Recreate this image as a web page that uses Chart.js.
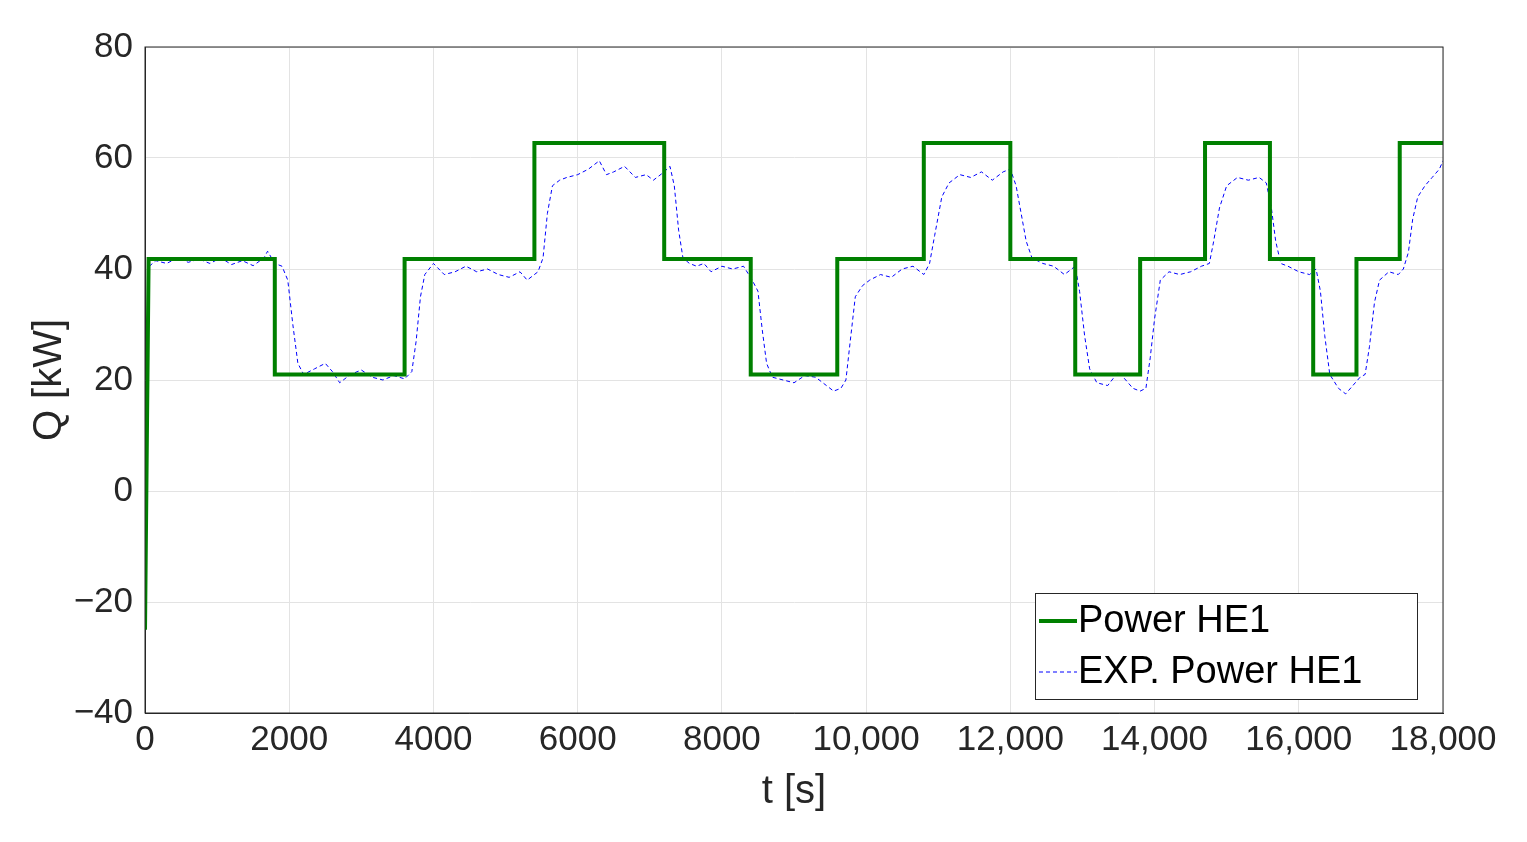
<!DOCTYPE html>
<html>
<head>
<meta charset="utf-8">
<script src="https://cdn.jsdelivr.net/npm/chart.js@4"></script>
<style>
  body { margin: 0; background: #fff; }
  #wrap { width: 1527px; height: 842px; }
</style>
</head>
<body>
<div id="wrap"><canvas id="c" width="1527" height="842"></canvas></div>
<script>
// Power HE1 (model) - step profile
const tModel = [0, 50, 1800, 1800, 3600, 3600, 5400, 5400, 7200, 7200, 8400, 8400, 9600, 9600, 10800, 10800,
  12000, 12000, 12900, 12900, 13800, 13800, 14700, 14700, 15600, 15600, 16200, 16200, 16800, 16800, 17400, 17400, 18000];
const qModel = [-25, 41.8, 41.8, 21, 21, 41.8, 41.8, 62.7, 62.7, 41.8, 41.8, 21, 21, 41.8, 41.8, 62.7,
  62.7, 41.8, 41.8, 21, 21, 41.8, 41.8, 62.7, 62.7, 41.8, 41.8, 21, 21, 41.8, 41.8, 62.7, 62.7];

// EXP. Power HE1 (measured)
const tExp = [60, 150, 300, 450, 600, 750, 900, 1050, 1200, 1350, 1500, 1650, 1700, 1800, 1900, 1980, 2050, 2120, 2200, 2350,
  2500, 2600, 2700, 2850, 3000, 3150, 3300, 3450, 3600, 3700, 3760, 3820, 3880, 4000, 4150, 4300, 4450, 4600, 4750, 4900,
  5050, 5200, 5300, 5450, 5520, 5580, 5650, 5750, 5850, 6000, 6150, 6300, 6400, 6500, 6650, 6800, 6950, 7050, 7200, 7280,
  7340, 7400, 7460, 7550, 7650, 7750, 7850, 8000, 8150, 8300, 8420, 8500, 8560, 8620, 8700, 8850, 9000, 9150, 9300, 9450,
  9550, 9650, 9720, 9780, 9850, 9950, 10050, 10200, 10350, 10500, 10650, 10800, 10880, 10950, 11050, 11150, 11300, 11450, 11600, 11750,
  11900, 12000, 12080, 12150, 12220, 12300, 12450, 12600, 12750, 12900, 12960, 13030, 13100, 13200, 13350, 13500, 13600, 13700, 13800, 13880,
  13940, 14000, 14080, 14200, 14350, 14500, 14650, 14760, 14820, 14900, 15000, 15150, 15300, 15450, 15550, 15620, 15680, 15750, 15850, 16000,
  16150, 16240, 16300, 16360, 16430, 16550, 16650, 16750, 16850, 16920, 16980, 17050, 17120, 17250, 17380, 17450, 17520, 17580, 17650, 17750,
  17850, 17950, 18000];
const qExp = [40.5, 41.5, 41, 42, 41.2, 41.8, 41, 42, 40.8, 41.5, 40.6, 42, 43.2, 41, 40.5, 38, 30, 23, 21, 22,
  23, 21.5, 19.5, 21, 21.8, 20.5, 20, 20.8, 20.2, 21.5, 27, 35, 39, 41, 39, 39.5, 40.5, 39.5, 40, 39,
  38.5, 39.5, 38, 39.5, 42, 50, 55, 56, 56.5, 57, 58, 59.5, 57, 57.5, 58.5, 56.5, 57, 56, 57.5, 58.5,
  55, 47, 42, 41, 40.5, 41, 39.5, 40.5, 40, 40.5, 38, 36, 29, 23, 20.5, 20, 19.5, 20.8, 20.5, 19,
  18, 18.5, 20, 27, 35, 37, 38, 39, 38.5, 40, 40.5, 39, 41, 46, 53, 55.5, 57, 56.5, 57.5, 56,
  57.5, 58, 55, 50, 45, 42, 41, 40.5, 39, 40.5, 36, 28, 22, 19.5, 19, 21.5, 20, 18.5, 18, 18.5,
  24, 31, 38, 39.5, 39, 39.5, 40.5, 41, 45, 51, 55, 56.5, 56, 56.5, 55.5, 51, 45, 41, 40.5, 39.5,
  39, 40, 36, 28, 21, 18.5, 17.5, 19, 20.5, 21, 26, 34, 38, 39.5, 39, 40, 43, 49, 53, 55,
  56.5, 58, 59.5];

const xTicks = [0, 2000, 4000, 6000, 8000, 10000, 12000, 14000, 16000, 18000];

const toXY = (ts, qs) => ts.map((t, i) => ({ x: t, y: qs[i] }));
const fmtX = v => v >= 10000 ? v.toLocaleString('en-US') : String(v);
const fmtY = v => v < 0 ? '\u2212' + Math.abs(v) : String(v);

// legend drawn inside the plot, bottom right
const boxLegend = {
  id: 'boxLegend',
  afterDraw(chart) {
    const { ctx, chartArea } = chart;
    const w = 382, h = 106;
    const x = chartArea.right - 26 - w, y = chartArea.bottom - 14 - h;
    ctx.save();
    ctx.fillStyle = '#fff';
    ctx.fillRect(x, y, w, h);
    ctx.strokeStyle = '#262626';
    ctx.lineWidth = 1;
    ctx.strokeRect(x + 0.5, y + 0.5, w, h);
    ctx.font = '38px "Liberation Sans", Arial, sans-serif';
    ctx.textBaseline = 'middle';
    chart.data.datasets.forEach((ds, i) => {
      const cy = y + 28 + i * 51;
      ctx.strokeStyle = ds.borderColor;
      ctx.lineWidth = ds.borderWidth;
      ctx.setLineDash(ds.borderDash || []);
      ctx.beginPath();
      ctx.moveTo(x + 4, cy);
      ctx.lineTo(x + 42, cy);
      ctx.stroke();
      ctx.setLineDash([]);
      ctx.fillStyle = '#000';
      ctx.fillText(ds.label, x + 43, cy + 1);
    });
    ctx.restore();
  }
};

new Chart(document.getElementById('c'), {
  type: 'scatter',
  data: {
    datasets: [
      {
        label: 'Power HE1',
        data: toXY(tModel, qModel),
        showLine: true,
        borderColor: '#008000',
        borderWidth: 4,
        pointRadius: 0,
        order: 1
      },
      {
        label: 'EXP. Power HE1',
        data: toXY(tExp, qExp),
        showLine: true,
        borderColor: '#0000ff',
        borderWidth: 1,
        borderDash: [4, 3],
        pointRadius: 0,
        order: 2
      }
    ]
  },
  options: {
    responsive: false,
    animation: false,
    layout: { padding: { top: 47, right: 84, left: 22, bottom: 22 } },
    plugins: { legend: { display: false }, tooltip: { enabled: false } },
    scales: {
      x: {
        min: 0, max: 18000,
        afterBuildTicks: axis => { axis.ticks = xTicks.map(v => ({ value: v })); },
        afterFit: axis => { axis.height = 107; },
        grid: { color: '#e3e3e3', drawTicks: false },
        border: { color: '#262626', width: 1 },
        ticks: { color: '#262626', font: { size: 35, family: '"Liberation Sans", Arial' }, padding: 6, maxRotation: 0, callback: fmtX },
        title: { display: true, text: 't [s]', color: '#262626', font: { size: 40, family: '"Liberation Sans", Arial' }, padding: { top: 0 } }
      },
      y: {
        min: -40, max: 80,
        afterFit: axis => { axis.width = 123; },
        grid: { color: '#e3e3e3', drawTicks: false },
        border: { color: '#262626', width: 1 },
        ticks: { stepSize: 20, color: '#262626', font: { size: 35, family: '"Liberation Sans", Arial' }, padding: 12, callback: fmtY },
        title: { display: true, text: 'Q [kW]', color: '#262626', font: { size: 40, family: '"Liberation Sans", Arial' }, padding: { bottom: 0 } }
      }
    }
  },
  plugins: [boxLegend, {
    id: 'frame',
    afterDraw(chart) {
      const { ctx, chartArea: a } = chart;
      ctx.save();
      ctx.strokeStyle = '#262626';
      ctx.lineWidth = 1;
      ctx.strokeRect(a.left, a.top, a.right - a.left, a.bottom - a.top);
      ctx.restore();
    }
  }]
});
</script>
</body>
</html>
